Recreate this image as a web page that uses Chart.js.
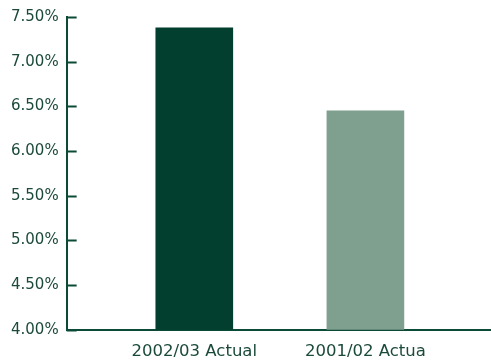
<!DOCTYPE html>
<html>
<head>
<meta charset="utf-8">
<script src="https://cdn.jsdelivr.net/npm/chart.js@4"></script>
<style>
  html, body { margin: 0; padding: 0; background: #fff; }
  #wrap { width: 491px; height: 363px; }
</style>
</head>
<body>
<div id="wrap"><canvas id="rateChart"></canvas></div>
<script>
// categories and values
var categories = ['2002/03 Actual', '2001/02 Actua'];
var rates = [7.38, 6.45];
var barColors = ['#023f2e', '#7f9f8f'];
var yTicks = [4.0, 4.5, 5.0, 5.5, 6.0, 6.5, 7.0, 7.5];

var axisColor = '#0b4a37';
var textColor = '#1b4a3b';

// inward tick marks on the y axis
var innerTicks = {
  id: 'innerTicks',
  afterDraw: function (chart) {
    var y = chart.scales.y;
    var ctx = chart.ctx;
    ctx.save();
    ctx.strokeStyle = axisColor;
    ctx.lineWidth = 2;
    yTicks.forEach(function (t) {
      var py = Math.round(y.getPixelForValue(t)) + 0.5;
      ctx.beginPath();
      ctx.moveTo(y.right, py);
      ctx.lineTo(y.right + 10, py);
      ctx.stroke();
    });
    ctx.restore();
  }
};

var ctx = document.getElementById('rateChart').getContext('2d');
var rateChart = new Chart(ctx, {
  type: 'bar',
  data: {
    datasets: [{
      data: categories.map(function (c, i) { return { x: i + 1, y: rates[i] }; }),
      backgroundColor: barColors,
      borderWidth: 0,
      barThickness: 77
    }]
  },
  options: {
    responsive: true,
    maintainAspectRatio: false,
    animation: false,
    layout: { padding: { top: 3, right: 0, bottom: -10.5, left: 3 } },
    plugins: {
      legend: { display: false },
      tooltip: { enabled: false }
    },
    scales: {
      x: {
        type: 'linear',
        offset: false,
        min: 0.254,
        max: 2.734,
        afterBuildTicks: function (scale) {
          scale.ticks = categories.map(function (c, i) { return { value: i + 1 }; });
        },
        grid: { display: false, drawTicks: false },
        border: { display: true, color: axisColor, width: 2 },
        ticks: {
          autoSkip: false,
          maxRotation: 0,
          padding: 12,
          color: textColor,
          font: { family: 'DejaVu Sans', size: 16.5 },
          callback: function (v) { return categories[v - 1]; }
        }
      },
      y: {
        min: 4,
        max: 7.5,
        afterBuildTicks: function (scale) {
          scale.ticks = yTicks.map(function (t) { return { value: t }; });
        },
        grid: { display: false, drawTicks: false },
        border: { display: true, color: axisColor, width: 2 },
        ticks: {
          padding: 8,
          color: textColor,
          font: { family: 'DejaVu Sans', size: 15 },
          callback: function (v) { return v.toFixed(2) + '%'; }
        }
      }
    }
  },
  plugins: [innerTicks]
});
</script>
</body>
</html>
